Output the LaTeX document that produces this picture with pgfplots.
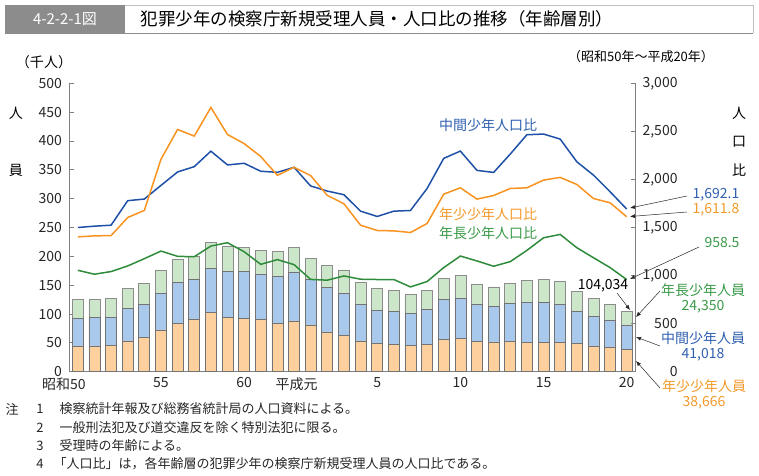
\documentclass[border=0pt]{standalone}
\usepackage{pgfplots}
\pgfplotsset{compat=1.18}
\usepackage{pgfplotstable}
\usepackage{fontspec}
\setmainfont{Noto Sans CJK JP}
\usetikzlibrary{arrows.meta}

\definecolor{lnOr}{HTML}{F7931E}
\definecolor{lnBl}{HTML}{1F50A8}
\definecolor{lnGr}{HTML}{2E8B3A}
\definecolor{fOr}{HTML}{FDD09E}
\definecolor{fBl}{HTML}{A8C9EB}
\definecolor{fGr}{HTML}{CBE6C8}
\definecolor{tBl}{HTML}{2F5FAF}
\definecolor{tOr}{HTML}{F39A2B}
\definecolor{tGr}{HTML}{3A9A48}
\newcommand\fs[1]{\fontsize{#1}{#1}\selectfont}

% persons (thousand): i, young, middle, older
\pgfplotstableread{
i o m e
0 44.8 47.7 33.4
1 44.8 49.5 30.4
2 46.0 48.3 33.3
3 53.4 56.4 35.0
4 59.2 57.5 36.7
5 72.4 63.8 39.1
6 83.9 71.3 39.1
7 91.4 68.4 39.6
8 103.4 75.3 44.9
9 94.3 79.3 43.6
10 93.1 80.5 41.9
11 90.0 79.0 41.0
12 83.3 81.7 43.0
13 88.0 85.0 42.0
14 81.0 78.8 36.8
15 69.0 77.0 38.0
16 63.2 73.0 40.2
17 53.4 62.6 38.6
18 49.4 57.5 37.9
19 47.7 57.5 35.6
20 45.4 56.3 32.2
21 47.1 61.5 32.8
22 56.3 69.0 36.2
23 58.0 69.6 39.6
24 52.9 63.1 35.7
25 51.7 62.1 33.3
26 52.3 66.1 35.0
27 51.1 69.6 37.9
28 51.1 68.4 40.3
29 51.1 64.9 40.3
30 48.3 56.3 35.1
31 44.8 51.2 31.6
32 43.0 45.5 28.2
33 38.666 41.018 24.350
}\bars

% population ratios
\pgfplotstableread{
i chu nen cho
0 1500 1403 1055
1 1514 1413 1014
2 1524 1416 1042
3 1779 1604 1100
4 1796 1678 1176
5 1938 2210 1255
6 2078 2520 1200
7 2133 2451 1196
8 2294 2749 1307
9 2151 2467 1342
10 2168 2373 1248
11 2085 2238 1117
12 2074 2043 1166
13 2126 2126 1114
14 1932 2040 960
15 1879 1834 952
16 1841 1747 996
17 1670 1524 962
18 1615 1469 959
19 1670 1465 959
20 1677 1448 882
21 1906 1542 938
22 2219 1847 1083
23 2295 1913 1203
24 2094 1795 1152
25 2073 1833 1097
26 2264 1906 1145
27 2465 1913 1262
28 2472 1993 1393
29 2420 2021 1428
30 2184 1948 1290
31 2045 1802 1186
32 1872 1757 1083
33 1692.1 1611.8 958.5
}\ratios

\begin{document}
\begin{tikzpicture}[x=1pt,y=1pt]
\useasboundingbox (0,0) rectangle (759,475);

% title band
\fill[black!45] (5,442) rectangle (125,470);
\draw[black!25, line width=0.8pt] (125,470) -- (753,470) -- (753,442);
\draw[black!45, line width=1.6pt] (5,441.5) -- (753,441.5);
\node[text=white, font=\fs{15}] at (65,456) {4-2-2-1図};
\node[anchor=west, font=\fs{17.5}] at (137,456) {犯罪少年の検察庁新規受理人員・人口比の推移（年齢層別）};

\begin{axis}[
    at={(69.5pt,103.3pt)}, anchor=south west,
    scale only axis, width=565.5pt, height=288.4pt,
    xmin=-0.5, xmax=33.5, ymin=0, ymax=500,
    axis x line*=bottom, axis y line*=left,
    ybar stacked, bar width=11pt,
    ytick={0,50,...,500},
    xtick={0,5,10,14,18,23,28,33},
    xticklabels={\llap{昭和}50,55,60,\llap{平成}元,5,10,15,20},
    x tick style={draw=none},
    y tick style={draw=black!50, line width=0.8pt},
    tick align=inside, major tick length=4pt,
    axis line style={draw=black!50, line width=0.8pt},
    tick label style={font=\fs{14}, text=black!85},
    yticklabel style={xshift=-4pt},
    xticklabel style={yshift=-2.5pt},
    /pgf/number format/assume math mode=true,
    clip=false,
]
\addplot[fill=fOr, draw=black!55, line width=0.7pt] table[x=i,y=o] {\bars};
\addplot[fill=fBl, draw=black!55, line width=0.7pt] table[x=i,y=m] {\bars};
\addplot[fill=fGr, draw=black!45, line width=0.7pt] table[x=i,y=e] {\bars};
\end{axis}

\begin{axis}[
    at={(69.5pt,103.3pt)}, anchor=south west,
    scale only axis, width=565.5pt, height=288.4pt,
    xmin=-0.5, xmax=33.5, ymin=0, ymax=3000,
    axis x line=none, axis y line*=right,
    ytick={0,500,...,3000},
    y tick style={draw=black!50, line width=0.8pt},
    tick align=inside, major tick length=4pt,
    axis line style={draw=black!50, line width=0.8pt},
    tick label style={font=\fs{14}, text=black!85},
    yticklabel style={text width=39pt, align=right},
    /pgf/number format/assume math mode=true,
    /pgf/number format/1000 sep={,},
    clip=false,
]
\addplot[lnBl, line width=1.5pt, no marks] table[x=i,y=chu] {\ratios};
\addplot[lnOr, line width=1.5pt, no marks] table[x=i,y=nen] {\ratios};
\addplot[lnGr, line width=1.5pt, no marks] table[x=i,y=cho] {\ratios};
\end{axis}

% axis captions
\node[font=\fs{14}] at (44,413) {（千人）};
\node[font=\fs{13}] at (641,418) {（昭和50年～平成20年）};
\node[font=\fs{14}] at (16,362) {人};
\node[font=\fs{14}] at (16,305) {員};
\node[font=\fs{14}] at (739,362) {人};
\node[font=\fs{14}] at (739,333) {口};
\node[font=\fs{14}] at (739,305) {比};

% series labels
\node[font=\fs{14}, text=tBl] at (488,350) {中間少年人口比};
\node[font=\fs{14}, text=tOr] at (488,261) {年少少年人口比};
\node[font=\fs{14}, text=tGr] at (488,242) {年長少年人口比};

% end-value annotations
\tikzset{ann/.style={-{Latex[length=5pt,width=4pt]}, line width=0.5pt, black!85}}
\node[font=\fs{14}, text=tBl] at (716,280) {1,692.1};
\node[font=\fs{14}, text=tOr] at (716,265) {1,611.8};
\node[font=\fs{14}, text=tGr] at (722,232) {958.5};
\draw[ann] (687,279) -- (630,267);
\draw[ann] (687,263) -- (630,258.5);
\draw[ann] (699,228) -- (630,196);

\node[font=\fs{14}] at (603,189) {104,034};
\draw[ann] (617,182) -- (630,165);

\node[font=\fs{14}, text=tGr] at (703,185) {年長少年人員};
\node[font=\fs{14}, text=tGr] at (703,168) {24,350};
\node[font=\fs{14}, text=tBl] at (703,137) {中間少年人員};
\node[font=\fs{14}, text=tBl] at (703,120) {41,018};
\node[font=\fs{14}, text=tOr] at (704,89) {年少少年人員};
\node[font=\fs{14}, text=tOr] at (704,72) {38,666};
\draw[ann] (660,87) -- (636,114);
\draw[ann] (660,184) -- (636,158);
\draw[ann] (660,129) -- (636,138);

% notes
\begin{scope}[font=\fs{13}, text=black!85]
\node at (12,66) {注};
\node at (40,66) {1};
\node[anchor=west] at (56,66) {検察統計年報及び総務省統計局の人口資料による。};
\node at (40,47) {2};
\node[anchor=west] at (56,47) {一般刑法犯及び道交違反を除く特別法犯に限る。};
\node at (40,29) {3};
\node[anchor=west] at (56,29) {受理時の年齢による。};
\node at (40,11) {4};
\node[anchor=west] at (50,11) {「人口比」は，各年齢層の犯罪少年の検察庁新規受理人員の人口比である。};
\end{scope}
\end{tikzpicture}
\end{document}
